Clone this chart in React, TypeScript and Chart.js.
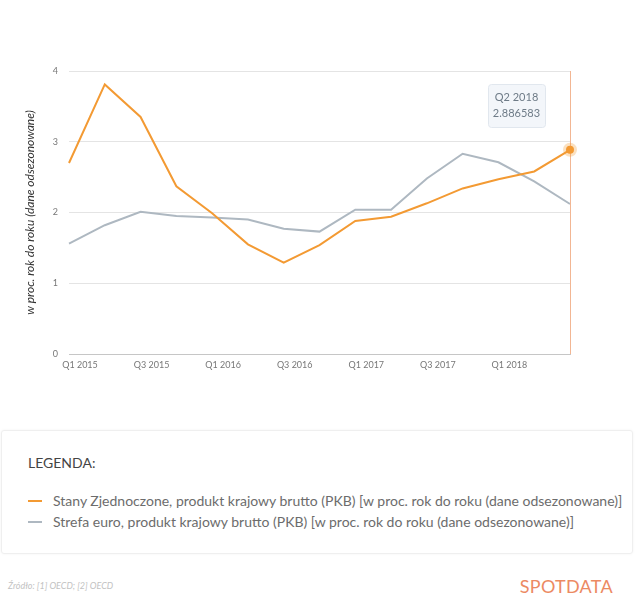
import React, { useEffect, useRef } from 'react';
import { Chart, registerables } from 'chart.js';

Chart.register(...registerables);

// quarters are dated at quarter end, so the first point sits on the "Q1 2015" tick
const quarters = [
  'Q4 2014', 'Q1 2015', 'Q2 2015', 'Q3 2015', 'Q4 2015',
  'Q1 2016', 'Q2 2016', 'Q3 2016', 'Q4 2016',
  'Q1 2017', 'Q2 2017', 'Q3 2017', 'Q4 2017',
  'Q1 2018', 'Q2 2018',
];
const tickLabels = [
  'Q1 2015', '', 'Q3 2015', '', 'Q1 2016', '', 'Q3 2016', '',
  'Q1 2017', '', 'Q3 2017', '', 'Q1 2018', '', '',
];
const usValues = [2.70, 3.81, 3.35, 2.37, 1.99, 1.55, 1.29, 1.54, 1.88, 1.94, 2.13, 2.34, 2.47, 2.58, 2.886583];
const euroValues = [1.56, 1.82, 2.01, 1.95, 1.93, 1.90, 1.77, 1.73, 2.04, 2.04, 2.48, 2.83, 2.71, 2.44, 2.12];

const usLabel = 'Stany Zjednoczone, produkt krajowy brutto (PKB) [w proc. rok do roku (dane odsezonowane)]';
const euroLabel = 'Strefa euro, produkt krajowy brutto (PKB) [w proc. rok do roku (dane odsezonowane)]';
const yTitle = 'w proc. rok do roku (dane odsezonowane)';

const ORANGE = '#f39a33';
const GREY = '#aeb8c1';

// fake hover state on the last US point: crosshair, halo and a small tooltip
const hoverPlugin = {
  id: 'hoverMarker',
  afterDatasetsDraw(chart: any) {
    const { ctx, chartArea } = chart;
    const meta = chart.getDatasetMeta(0);
    const last = meta.data.length - 1;
    const pt = meta.data[last];
    if (!pt) return;
    const x = pt.x;
    const y = pt.y;

    ctx.save();
    ctx.strokeStyle = '#f2b693';
    ctx.lineWidth = 1;
    ctx.beginPath();
    ctx.moveTo(x + 0.5, chartArea.top);
    ctx.lineTo(x + 0.5, chartArea.bottom);
    ctx.stroke();

    ctx.fillStyle = 'rgba(243, 154, 51, 0.3)';
    ctx.beginPath();
    ctx.arc(x, y, 7, 0, Math.PI * 2);
    ctx.fill();
    ctx.fillStyle = ORANGE;
    ctx.beginPath();
    ctx.arc(x, y, 4, 0, Math.PI * 2);
    ctx.fill();

    // tooltip box
    const w = 57;
    const h = 43;
    const bx = x - 25 - w;
    const by = chartArea.top + 13;
    ctx.fillStyle = '#f3f6fa';
    ctx.strokeStyle = '#e1e7ee';
    ctx.beginPath();
    ctx.roundRect(bx + 0.5, by + 0.5, w, h, 3);
    ctx.fill();
    ctx.stroke();

    ctx.fillStyle = '#6e7b87';
    ctx.font = '11px Lato';
    ctx.textAlign = 'center';
    ctx.textBaseline = 'middle';
    ctx.fillText(quarters[last], bx + w / 2, by + 13);
    ctx.fillText(String(usValues[last]), bx + w / 2, by + 29);
    ctx.restore();
  },
};

function LegendItem({ color, text }: { color: string; text: string }) {
  return (
    <div style={{ display: 'flex', alignItems: 'center', height: 21, whiteSpace: 'nowrap' }}>
      <span style={{ display: 'inline-block', width: 14, height: 2, background: color, marginRight: 11 }} />
      <span>{text}</span>
    </div>
  );
}

export default function App() {
  const canvasRef = useRef<HTMLCanvasElement>(null);

  useEffect(() => {
    if (!canvasRef.current) return;
    Chart.defaults.font.family = 'Lato';

    const chart = new Chart(canvasRef.current, {
      type: 'line',
      data: {
        labels: quarters,
        datasets: [
          {
            label: usLabel,
            data: usValues,
            borderColor: ORANGE,
            borderWidth: 2,
            pointRadius: 0,
            tension: 0,
          },
          {
            label: euroLabel,
            data: euroValues,
            borderColor: GREY,
            borderWidth: 2,
            pointRadius: 0,
            tension: 0,
          },
        ],
      },
      options: {
        responsive: false,
        animation: false,
        events: [],
        layout: { padding: { left: 19, top: 71, right: 70, bottom: 0 } },
        plugins: {
          legend: { display: false },
          tooltip: { enabled: false },
        },
        scales: {
          x: {
            type: 'category',
            grid: { display: false, drawTicks: false },
            border: { display: true, color: '#c6c6c6', width: 1 },
            ticks: {
              autoSkip: false,
              maxRotation: 0,
              labelOffset: 11,
              padding: 6,
              color: '#777',
              font: { size: 9 },
              callback: (_v: any, i: number) => tickLabels[i],
            },
            afterFit: (scale: any) => { scale.height = 26; },
          },
          y: {
            min: 0,
            max: 4,
            grid: { color: '#e4e4e4', drawTicks: false },
            border: { display: false },
            ticks: { stepSize: 1, padding: 11, color: '#777', font: { size: 9 } },
            title: {
              display: true,
              text: yTitle,
              color: '#333',
              font: { size: 12, style: 'italic' },
            },
            afterFit: (scale: any) => { scale.width = 50; },
          },
        },
      },
      plugins: [hoverPlugin],
    } as any);

    return () => chart.destroy();
  }, []);

  return (
    <div style={{ position: 'absolute', left: 0, top: 0, width: 640, height: 612, background: '#fff', fontFamily: 'Lato, sans-serif' }}>
      <canvas ref={canvasRef} width={640} height={380} style={{ position: 'absolute', left: 0, top: 0, width: 640, height: 380 }} />

      <div style={{
        position: 'absolute', left: 1, top: 430, width: 630, height: 122,
        border: '1px solid #efefef', borderRadius: 3, boxShadow: '0 0 3px rgba(0,0,0,0.05)',
      }}>
        <div style={{ position: 'absolute', left: 26, top: 24, fontSize: 14, lineHeight: '16px', color: '#444' }}>LEGENDA:</div>
        <div style={{ position: 'absolute', left: 26, top: 59, fontSize: 14, color: '#6c6c6c' }}>
          <LegendItem color={ORANGE} text={usLabel} />
          <LegendItem color={GREY} text={euroLabel} />
        </div>
      </div>

      <div style={{ position: 'absolute', left: 8, top: 580, fontSize: 9, fontStyle: 'italic', color: '#c2c2c2' }}>
        Źródło: [1] OECD; [2] OECD
      </div>
      <div style={{ position: 'absolute', right: 27, top: 575, fontSize: 18, fontWeight: 400, color: '#ec8a63', letterSpacing: 0.3 }}>
        SPOTDATA
      </div>
    </div>
  );
}
